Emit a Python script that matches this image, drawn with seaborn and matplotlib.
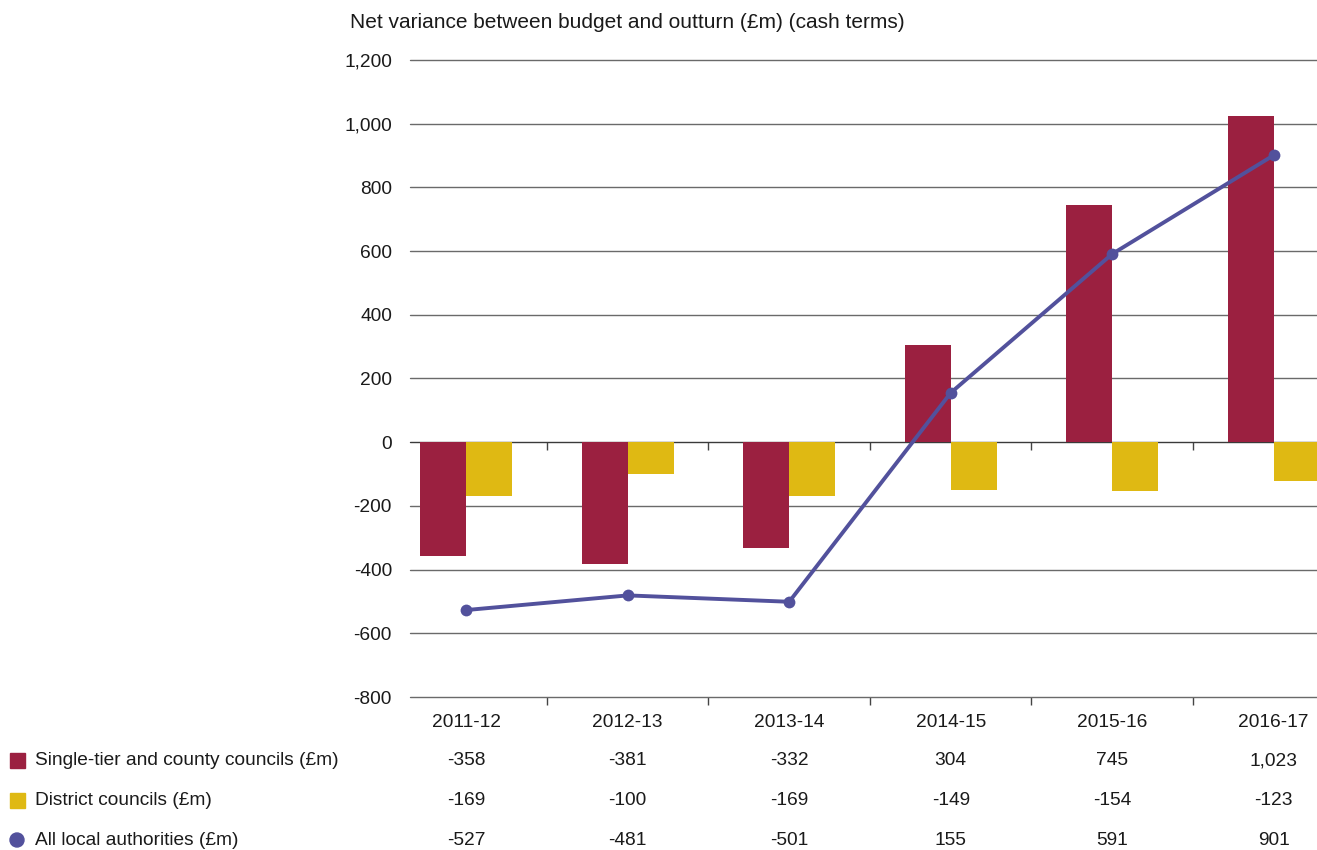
import numpy as np
import pandas as pd
import matplotlib
matplotlib.use("Agg")
import matplotlib.pyplot as plt
import matplotlib.transforms as mtransforms
from matplotlib.patches import Rectangle, Ellipse
import seaborn as sns

years = ["2011-12", "2012-13", "2013-14", "2014-15", "2015-16", "2016-17"]
single_tier = [-358, -381, -332, 304, 745, 1023]
district = [-169, -100, -169, -149, -154, -123]
all_la = [-527, -481, -501, 155, 591, 901]

series_names = [
    "Single-tier and county councils (£m)",
    "District councils (£m)",
    "All local authorities (£m)",
]
y_ticks = [-800, -600, -400, -200, 0, 200, 400, 600, 800, 1000, 1200]

RED = "#9b2040"
YELLOW = "#dfb913"
BLUE = "#52519c"
GRID = "#6a6a6a"
TEXT = "#1a1a1a"
FS = 13.8

sns.set_theme(style="white")
plt.rcParams["font.family"] = ["Liberation Sans", "DejaVu Sans"]
plt.rcParams["text.color"] = TEXT

W, H = 1317, 850
fig = plt.figure(figsize=(W / 100, H / 100), dpi=100)
ax = fig.add_axes([410 / W, 1 - 697 / H, 1 - 410 / W, (697 - 60) / H])

bars = pd.DataFrame({
    "year": years * 2,
    "value": single_tier + district,
    "series": [series_names[0]] * len(years) + [series_names[1]] * len(years),
})
sns.barplot(data=bars, x="year", y="value", hue="series",
            palette=[RED, YELLOW], width=0.57, gap=0, dodge=True,
            saturation=1, legend=False, linewidth=0, ax=ax, zorder=2)

sns.lineplot(x=np.arange(len(years)), y=all_la, color=BLUE, lw=2.8,
             marker="o", markersize=8.5, markeredgewidth=0, ax=ax, zorder=4)

ax.set_ylim(-800, 1200)
ax.set_xlim(-0.348, 5.268)
ax.set_yticks(y_ticks)
ax.set_yticklabels([f"{v:,}" for v in y_ticks], fontsize=FS, color=TEXT)
for v in y_ticks:
    ax.axhline(v, color=GRID if v != 0 else "#3a3a3a", lw=1.0, zorder=1,
               clip_on=False)

for s in ax.spines.values():
    s.set_visible(False)
ax.set_xlabel("")
ax.set_ylabel("")
ax.grid(False)

# category labels at bottom, boundary ticks on the -800 line
ax.set_xticks(range(len(years)))
ax.set_xticklabels(years, fontsize=FS, color=TEXT)
ax.set_xticks(np.arange(0.5, len(years) - 0.5, 1), minor=True)
ax.tick_params(axis="x", which="major", length=0, pad=12)
ax.tick_params(axis="x", which="minor", length=6, width=1, color="#444444",
               direction="out", bottom=True)
ax.tick_params(axis="y", length=0, pad=13)

# boundary ticks on the zero line
zero_ax = ax.secondary_xaxis(800 / 2000)
zero_ax.set_xticks(np.arange(0.5, len(years) - 0.5, 1))
zero_ax.set_xticklabels([])
zero_ax.tick_params(length=6, width=1, color="#444444", direction="out")
zero_ax.spines["bottom"].set_visible(False)

fig.text(350 / W, 1 - 28 / H, "Net variance between budget and outturn (£m) (cash terms)",
         fontsize=15, va="baseline", ha="left", color=TEXT)

# data table beneath the chart (rows placed by text baseline)
row_y = [760, 800, 840]
BASE = 5
rows = [single_tier, district, all_la]
trans = mtransforms.blended_transform_factory(ax.transData, fig.transFigure)
for ry, vals in zip(row_y, rows):
    for i, v in enumerate(vals):
        ax.text(i, 1 - (ry + BASE) / H, f"{v:,}", transform=trans, ha="center",
                va="baseline", fontsize=FS, color=TEXT, clip_on=False)

for ry, name in zip(row_y, series_names):
    fig.text(35 / W, 1 - (ry + BASE) / H, name, fontsize=FS, va="baseline",
             ha="left", color=TEXT)

sq = 15
fig.patches.append(Rectangle((10 / W, 1 - (row_y[0] + sq / 2) / H), sq / W, sq / H,
                             transform=fig.transFigure, color=RED))
fig.patches.append(Rectangle((10 / W, 1 - (row_y[1] + sq / 2) / H), sq / W, sq / H,
                             transform=fig.transFigure, color=YELLOW))
fig.patches.append(Ellipse((17 / W, 1 - row_y[2] / H), 14 / W, 14 / H,
                           transform=fig.transFigure, color=BLUE))

fig.savefig("out.png", dpi=100)
